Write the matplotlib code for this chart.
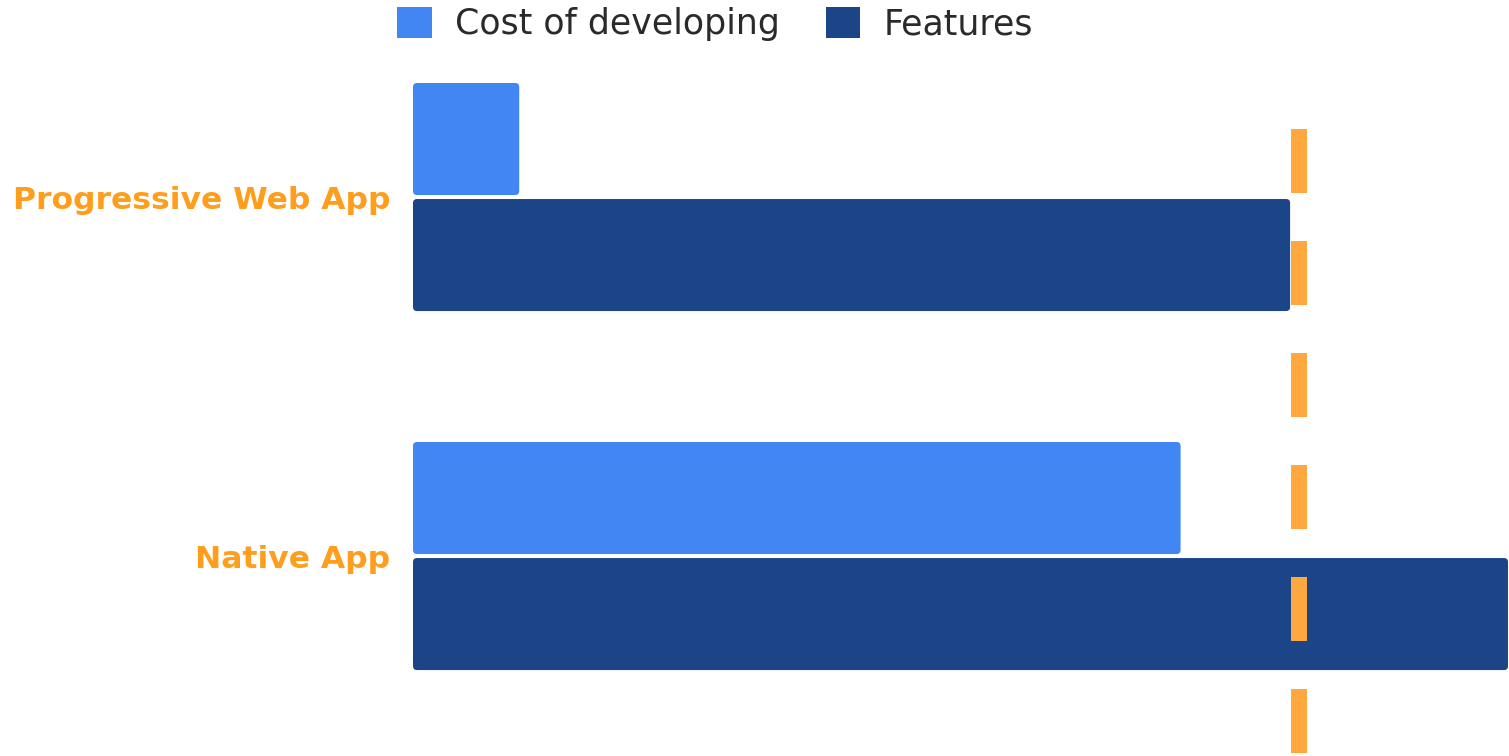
import matplotlib
matplotlib.use("Agg")
import matplotlib.pyplot as plt
from matplotlib.patches import FancyBboxPatch, Patch
import numpy as np

categories = ["Progressive Web App", "Native App"]
cost_values = [9.7, 70.1]
feature_values = [80.1, 100.0]
threshold = 80.9
series_names = ["Cost of developing", "Features"]

COST_COLOR = "#4286f4"
FEAT_COLOR = "#1c4587"
LINE_COLOR = "#ffa83f"
LABEL_COLOR = "#ff9d1c"

plt.rcParams["font.family"] = ["DejaVu Sans"]
plt.rcParams["lines.scale_dashes"] = False

W, H = 1509, 756
fig = plt.figure(figsize=(W / 100, H / 100), dpi=100)
ax_top, ax_bot = 70, 756
ax_left, ax_right = 413, 1508
ax = fig.add_axes([ax_left / W, 1 - ax_bot / H, (ax_right - ax_left) / W, (ax_bot - ax_top) / H])

y = np.arange(len(categories))
bh = 0.312
off = 0.1616
b1 = ax.barh(y - off, cost_values, height=bh, color=COST_COLOR, zorder=2)
b2 = ax.barh(y + off, feature_values, height=bh, color=FEAT_COLOR, zorder=2)

xlim = (0, 100)
ylim = (1.557, -0.3538)
ax.set_xlim(*xlim)
ax.set_ylim(*ylim)

# slightly rounded bar corners
ax_w_px = ax_right - ax_left
ax_h_px = ax_bot - ax_top
x_per_px = (xlim[1] - xlim[0]) / ax_w_px
y_per_px = abs(ylim[0] - ylim[1]) / ax_h_px
r_px = 4
for cont in (b1, b2):
    for rect in cont.patches:
        rect.set_visible(False)
        x0, y0 = rect.get_x(), rect.get_y()
        w, h = rect.get_width(), rect.get_height()
        fb = FancyBboxPatch((x0, y0), w, h,
                            boxstyle=f"round,pad=0,rounding_size={r_px * x_per_px}",
                            mutation_aspect=y_per_px / x_per_px,
                            facecolor=rect.get_facecolor(), edgecolor="none",
                            zorder=2, clip_on=False)
        ax.add_patch(fb)

top_frac = (ax_bot - 129) / (ax_bot - ax_top)
ax.plot([threshold, threshold], [top_frac, -0.05], transform=ax.get_xaxis_transform(),
        color=LINE_COLOR, linewidth=16 * 0.72, solid_capstyle="butt",
        dash_capstyle="butt", dashes=(64 * 0.72, 48 * 0.72), zorder=3, clip_on=False)

ax.set_yticks(y)
ax.set_yticklabels(categories, fontsize=22.6, fontweight="bold", color=LABEL_COLOR)
ax.tick_params(axis="y", length=0, pad=16.5)
ax.set_xticks([])
for s in ax.spines.values():
    s.set_visible(False)

handles = [Patch(facecolor=COST_COLOR, edgecolor="none"),
           Patch(facecolor=FEAT_COLOR, edgecolor="none")]
leg = fig.legend(handles, series_names, loc="center", bbox_to_anchor=(715 / W, 1 - 24 / H),
                 ncol=2, frameon=False,
                 handlelength=1.0, handleheight=1.0, handletextpad=0.66,
                 columnspacing=1.32, prop={"size": 25})
for t in leg.get_texts():
    t.set_color("#2a2a2a")

fig.savefig("out.png", dpi=100)
